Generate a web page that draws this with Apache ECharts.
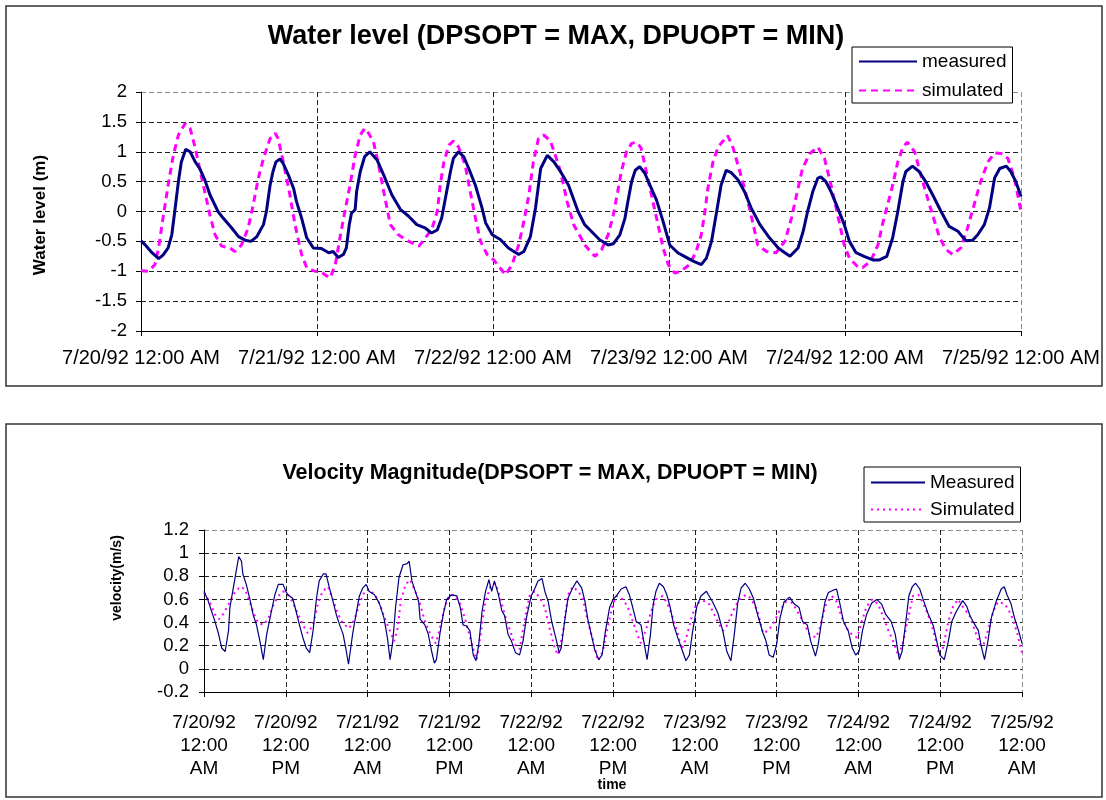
<!DOCTYPE html>
<html>
<head>
<meta charset="utf-8">
<script src="https://cdn.jsdelivr.net/npm/echarts@6/dist/echarts.min.js"></script>
<style>
  html, body { margin: 0; padding: 0; background: #fff; }
  #chart { width: 1106px; height: 800px; }
</style>
</head>
<body>
<div id="chart"></div>
<script>
// ── data: [hours since 7/20/92 12:00 AM, value] ─────────────────────
const wlTickLabels = ['7/20/92 12:00 AM', '7/21/92 12:00 AM', '7/22/92 12:00 AM',
  '7/23/92 12:00 AM', '7/24/92 12:00 AM', '7/25/92 12:00 AM']

const velTickLabels = ['7/20/92\n12:00\nAM', '7/20/92\n12:00\nPM', '7/21/92\n12:00\nAM',
  '7/21/92\n12:00\nPM', '7/22/92\n12:00\nAM', '7/22/92\n12:00\nPM', '7/23/92\n12:00\nAM',
  '7/23/92\n12:00\nPM', '7/24/92\n12:00\nAM', '7/24/92\n12:00\nPM', '7/25/92\n12:00\nAM']

const wlMeasured = [
  [0,-0.49],[0.5,-0.55],[1.5,-0.69],[2.4,-0.79],[3,-0.73],[3.7,-0.61],[4.2,-0.39],[4.6,0],[5.1,0.5],[5.5,0.83],
  [6.1,1.04],[6.7,1.0],[7.4,0.83],[8,0.72],[8.7,0.53],[9.4,0.28],[10.5,0],[11.2,-0.11],[12.4,-0.28],[13.3,-0.42],
  [14.2,-0.48],[15,-0.5],[15.8,-0.42],[16.7,-0.22],[17.1,0],[17.6,0.44],[18,0.67],[18.4,0.83],[18.95,0.88],[19.4,0.8],
  [20.1,0.61],[20.8,0.39],[21.2,0.17],[21.9,-0.11],[22.6,-0.44],[23.5,-0.61],[24.6,-0.62],[25.6,-0.69],[26.2,-0.67],
  [26.9,-0.77],[27.6,-0.72],[28,-0.61],[28.4,-0.22],[28.7,-0.03],[29.2,0.03],[29.4,0.33],[29.9,0.67],[30.5,0.92],
  [31.2,1.0],[32.2,0.86],[33.1,0.61],[34.2,0.28],[35.4,0.03],[36.5,-0.08],[37.6,-0.22],[38.8,-0.28],[39.6,-0.36],
  [40.4,-0.31],[41,-0.11],[41.6,0.28],[42.2,0.67],[42.6,0.89],[43.3,1.0],[44,0.92],[44.7,0.72],[45.6,0.44],[46.5,0.06],
  [47,-0.19],[47.9,-0.39],[49,-0.47],[50.1,-0.61],[51.5,-0.72],[52.2,-0.67],[53.1,-0.42],[53.8,0.06],[54.5,0.72],
  [55.4,0.94],[56.3,0.83],[57.2,0.67],[58.3,0.44],[59.6,0],[60.5,-0.22],[61.4,-0.33],[62.5,-0.47],[63.7,-0.56],
  [64.4,-0.54],[65.3,-0.39],[66,-0.11],[66.4,0.17],[66.9,0.5],[67.4,0.69],[68,0.75],[68.7,0.64],[69.4,0.44],[70.3,0.19],
  [71.2,-0.17],[72.1,-0.56],[73.2,-0.69],[74.1,-0.75],[75.3,-0.83],[76.4,-0.89],[77.1,-0.78],[77.8,-0.5],[78.5,0],
  [79.1,0.44],[79.8,0.69],[80.5,0.65],[81.4,0.53],[82.3,0.33],[83.2,0.06],[84.4,-0.22],[85.7,-0.44],[86.9,-0.61],
  [87.8,-0.69],[88.5,-0.75],[89.6,-0.61],[90.3,-0.33],[90.9,0],[91.6,0.33],[92.3,0.56],[92.7,0.58],[93.4,0.5],
  [94.1,0.33],[95,0.06],[95.9,-0.22],[96.6,-0.5],[97.5,-0.69],[98.6,-0.75],[99.8,-0.81],[100.7,-0.81],[101.7,-0.75],
  [102.5,-0.44],[103.2,0],[103.9,0.5],[104.3,0.67],[105.2,0.76],[106.1,0.67],[107,0.5],[107.95,0.28],[109.1,0],
  [110.2,-0.25],[111.4,-0.33],[112,-0.42],[112.5,-0.49],[113.4,-0.48],[114.1,-0.39],[115,-0.22],[115.7,0.06],
  [116.4,0.56],[117.1,0.72],[118,0.76],[118.6,0.67],[119.3,0.5],[120,0.25]
]

const wlSimulated = [
  [0,-0.99],[1,-1.0],[1.9,-0.89],[2.4,-0.61],[3,-0.11],[3.7,0.44],[4.4,0.94],[5.1,1.28],[6,1.47],[6.7,1.39],
  [7.4,1.06],[8,0.72],[8.7,0.33],[9.4,-0.06],[10.1,-0.39],[11,-0.58],[12.1,-0.61],[12.8,-0.67],[13.7,-0.56],
  [14.6,-0.28],[15.3,0.11],[16,0.56],[16.7,0.89],[17.6,1.22],[18.3,1.31],[18.7,1.22],[19.4,0.83],[20.3,0.28],
  [21,-0.22],[21.9,-0.72],[22.6,-0.94],[23.7,-1.0],[24.4,-1.0],[25.1,-1.06],[25.8,-1.11],[26.5,-0.89],[27.2,-0.39],
  [27.8,0],[28.5,0.44],[29.2,0.94],[29.9,1.28],[30.5,1.39],[30.8,1.36],[31.7,1.17],[32.4,0.78],[33.1,0.33],[34,-0.22],
  [35.1,-0.39],[36.5,-0.5],[37.9,-0.58],[38.8,-0.44],[39.7,-0.28],[40.4,0],[40.8,0.44],[41.3,0.83],[42,1.11],
  [42.6,1.18],[43.3,1.08],[44.2,0.78],[44.9,0.33],[45.6,-0.11],[46.3,-0.5],[47.2,-0.72],[48.1,-0.81],[49.7,-1.06],
  [50.6,-0.89],[51.5,-0.56],[52.2,-0.17],[52.9,0.28],[53.5,0.83],[54.2,1.22],[54.9,1.28],[55.8,1.19],[56.5,0.94],
  [57.2,0.67],[58.1,0.17],[59,-0.22],[60,-0.44],[60.5,-0.56],[61.9,-0.75],[62.8,-0.64],[63.7,-0.39],[64.4,-0.06],
  [65,0.33],[65.5,0.67],[66.2,1.0],[66.9,1.14],[67.6,1.16],[68.2,1.06],[68.9,0.67],[69.6,0.28],[70.5,-0.22],
  [71.2,-0.61],[71.9,-0.89],[72.8,-1.03],[73.6,-1.0],[74.8,-0.89],[75.7,-0.67],[76.4,-0.39],[76.9,0],[77.3,0.39],
  [78,0.83],[78.7,1.08],[80,1.27],[80.7,1.08],[81.4,0.78],[82.3,0.39],[83.2,-0.06],[84.1,-0.56],[85.3,-0.67],
  [86.6,-0.69],[87.8,-0.5],[88.7,-0.11],[89.4,0.28],[90.2,0.72],[91.2,0.97],[92.3,1.08],[93.2,0.89],[94.1,0.44],
  [95,-0.06],[95.9,-0.56],[96.6,-0.78],[97.7,-0.92],[98.4,-0.94],[99.5,-0.83],[100.5,-0.56],[101.1,-0.22],
  [101.8,0.11],[102.5,0.44],[103.2,0.83],[103.9,1.08],[104.5,1.16],[105.5,1.0],[106.1,0.72],[107,0.33],[107.95,-0.06],
  [108.9,-0.44],[109.8,-0.64],[110.7,-0.72],[111.8,-0.61],[112.7,-0.28],[113.6,0.11],[114.5,0.5],[115.5,0.83],
  [116.4,0.98],[117.3,0.97],[118.2,0.89],[119.1,0.56],[120,0]
]

const velMeasured = [
  [0,0.67],[0.6,0.59],[1.1,0.5],[1.6,0.41],[2.1,0.31],[2.6,0.18],[3.1,0.15],[3.6,0.33],[3.8,0.53],[4.3,0.70],
  [4.8,0.87],[5.1,0.97],[5.5,0.93],[5.7,0.82],[6.2,0.73],[6.7,0.61],[7.2,0.47],[7.7,0.38],[8.2,0.24],[8.7,0.08],
  [9.2,0.3],[9.9,0.5],[10.4,0.64],[10.9,0.73],[11.6,0.73],[12,0.67],[12.3,0.64],[13,0.61],[13.5,0.5],[14,0.38],
  [14.5,0.27],[15,0.18],[15.5,0.14],[16,0.33],[16.5,0.61],[16.9,0.76],[17.5,0.82],[17.9,0.82],[18.4,0.70],[18.9,0.59],
  [19.4,0.47],[19.9,0.38],[20.4,0.3],[20.8,0.18],[21.2,0.04],[21.8,0.3],[22.3,0.47],[22.8,0.63],[23.3,0.70],[23.8,0.73],
  [24.2,0.67],[25,0.64],[25.7,0.57],[26.4,0.44],[26.9,0.27],[27.3,0.08],[27.7,0.24],[28.1,0.53],[28.6,0.79],[29.2,0.9],
  [29.8,0.91],[30.1,0.93],[30.5,0.76],[31,0.67],[31.5,0.58],[31.7,0.43],[32.4,0.38],[32.9,0.3],[33.4,0.15],[33.8,0.05],
  [34.1,0.08],[34.6,0.3],[35.1,0.47],[35.6,0.6],[36.3,0.64],[37.1,0.63],[37.6,0.53],[38,0.38],[38.5,0.37],[39,0.33],
  [39.5,0.12],[39.9,0.07],[40.3,0.21],[40.8,0.5],[41.3,0.67],[41.8,0.77],[42.2,0.67],[42.6,0.76],[43.2,0.64],[43.7,0.5],
  [44.1,0.46],[44.6,0.3],[45.1,0.24],[45.7,0.14],[46.3,0.12],[46.8,0.24],[47.3,0.44],[48,0.63],[48.5,0.69],[49,0.76],
  [49.6,0.78],[50,0.67],[50.5,0.58],[51,0.41],[51.6,0.27],[52.1,0.14],[52.4,0.18],[52.9,0.41],[53.4,0.61],[54,0.69],
  [54.7,0.76],[55.4,0.7],[55.9,0.58],[56.3,0.43],[56.8,0.3],[57.3,0.17],[57.9,0.08],[58.4,0.12],[58.9,0.33],[59.5,0.53],
  [60,0.6],[60.5,0.63],[61.2,0.69],[61.9,0.71],[62.4,0.64],[62.9,0.53],[63.4,0.41],[64.1,0.38],[64.6,0.21],[65,0.08],
  [65.5,0.3],[65.9,0.56],[66.3,0.67],[66.8,0.74],[67.4,0.71],[67.9,0.64],[68.4,0.53],[68.9,0.38],[69.5,0.27],[70.1,0.17],
  [70.7,0.07],[71.2,0.12],[71.7,0.33],[72.3,0.54],[72.9,0.63],[73.7,0.67],[74.1,0.63],[74.6,0.58],[75.4,0.48],[76.1,0.33],
  [76.7,0.15],[77.3,0.07],[77.8,0.3],[78.3,0.57],[78.8,0.7],[79.4,0.74],[80,0.69],[80.6,0.61],[81.2,0.47],[82,0.31],
  [82.4,0.25],[82.9,0.12],[83.5,0.1],[84,0.21],[84.5,0.44],[85.1,0.58],[85.9,0.62],[86.6,0.56],[87.3,0.53],[87.8,0.41],
  [88.5,0.38],[89,0.24],[89.7,0.11],[90.1,0.21],[90.6,0.41],[91.1,0.58],[91.6,0.66],[92.3,0.68],[92.8,0.69],[93.3,0.56],
  [93.8,0.41],[94.5,0.33],[95.1,0.18],[95.6,0.12],[96.1,0.15],[96.6,0.33],[97.2,0.47],[97.95,0.57],[98.7,0.6],[99.4,0.56],
  [100,0.47],[100.8,0.41],[101.4,0.3],[102,0.08],[102.4,0.15],[102.9,0.38],[103.4,0.63],[103.9,0.71],[104.4,0.74],
  [105,0.69],[105.5,0.6],[106.2,0.48],[107,0.37],[107.5,0.24],[107.95,0.12],[108.6,0.08],[109.2,0.24],[109.7,0.41],
  [110.4,0.5],[111.3,0.59],[111.9,0.54],[112.3,0.47],[112.8,0.41],[113.6,0.33],[114,0.2],[114.5,0.08],[115,0.24],
  [115.5,0.44],[116.2,0.58],[116.95,0.69],[117.4,0.71],[117.8,0.64],[118.4,0.56],[118.9,0.44],[119.5,0.33],[120,0.22]
]

const velSimulated = [
  [0,0.66],[0.9,0.57],[1.6,0.47],[2.2,0.43],[2.9,0.48],[3.8,0.58],[4.5,0.66],[5.3,0.71],[6,0.69],[6.7,0.58],
  [7.3,0.48],[7.9,0.4],[8.7,0.38],[9.4,0.43],[10.1,0.54],[10.9,0.63],[11.6,0.67],[12.3,0.64],[13,0.58],[13.8,0.47],
  [14.5,0.38],[15.2,0.31],[16,0.38],[16.7,0.56],[17.4,0.67],[18.2,0.71],[18.9,0.6],[19.6,0.48],[20.4,0.39],[21.3,0.35],
  [22.1,0.43],[22.8,0.56],[23.5,0.66],[24.2,0.69],[25.2,0.63],[25.9,0.54],[26.7,0.41],[27.4,0.31],[27.9,0.24],
  [28.4,0.35],[28.9,0.6],[29.6,0.73],[30.2,0.77],[31,0.67],[31.7,0.56],[32.4,0.41],[33.2,0.3],[34,0.22],[34.6,0.35],
  [35.3,0.53],[35.95,0.63],[36.7,0.64],[37.6,0.56],[38.3,0.43],[39,0.28],[39.5,0.17],[40,0.08],[40.6,0.3],[41.2,0.56],
  [42,0.71],[42.7,0.74],[43.4,0.63],[44.1,0.47],[44.9,0.33],[45.6,0.21],[46.3,0.17],[47.1,0.44],[47.8,0.64],[48.5,0.67],
  [49.3,0.61],[50,0.53],[50.7,0.35],[51.5,0.17],[51.95,0.12],[52.7,0.33],[53.4,0.64],[54.1,0.71],[54.9,0.67],[55.6,0.6],
  [56.3,0.41],[57.1,0.24],[57.8,0.07],[58.5,0.15],[59.3,0.38],[60,0.56],[60.5,0.63],[61.5,0.6],[62.2,0.53],[62.9,0.41],
  [63.7,0.28],[64.1,0.22],[64.9,0.35],[65.6,0.5],[66.3,0.6],[67.3,0.63],[68,0.56],[68.8,0.44],[69.5,0.3],[70.1,0.17],
  [70.8,0.28],[71.5,0.44],[72.2,0.56],[73.2,0.59],[74.1,0.56],[75.1,0.44],[76.1,0.33],[76.8,0.38],[77.6,0.5],[78.5,0.6],
  [79.5,0.64],[80.2,0.61],[81.2,0.5],[82,0.31],[82.8,0.33],[83.7,0.41],[84.4,0.5],[85.4,0.58],[86.3,0.57],[87.6,0.44],
  [88.8,0.3],[89.8,0.27],[90.5,0.38],[91.1,0.54],[92.1,0.63],[92.8,0.58],[93.6,0.44],[94.3,0.35],[95,0.3],[95.8,0.27],
  [96.5,0.41],[97.2,0.54],[98,0.6],[98.9,0.56],[99.7,0.44],[100.4,0.33],[101.1,0.24],[101.9,0.11],[102.6,0.24],
  [103.3,0.44],[104,0.63],[104.8,0.64],[105.5,0.57],[106.2,0.47],[107,0.33],[107.7,0.15],[108.4,0.18],[109.2,0.41],
  [109.9,0.54],[110.6,0.6],[111.4,0.53],[112.3,0.46],[113.1,0.33],[113.8,0.21],[114.3,0.2],[115,0.33],[115.8,0.5],
  [116.5,0.58],[117.5,0.56],[118.4,0.47],[119.2,0.33],[120,0.14]
]

// ── styling ────────────────────────────────────────────────────────
const FONT = '"Liberation Sans", Arial, sans-serif'
const NAVY = '#000080'
const MAGENTA = '#ff00ff'
const GRID_DASH = [5, 3]

// dashed split lines, last one (plot-area edge) grey
function splitColors(n) {
  return Array.from({ length: n }, (_, i) => (i === n - 1 ? '#8c8c8c' : '#222'))
}

const axisCommon = {
  axisLine: { show: true, onZero: false, lineStyle: { color: '#000', width: 1 } },
  axisTick: { show: true, inside: false, length: 5, lineStyle: { color: '#000' } },
}

const legendCommon = {
  orient: 'vertical',
  backgroundColor: '#fff', borderColor: '#000', borderWidth: 1,
  itemStyle: { opacity: 0 },   // line sample only, no marker dot
  textStyle: { fontFamily: FONT, fontSize: 19, color: '#000' },
}

const chart = echarts.init(document.getElementById('chart'), null, { renderer: 'canvas' })

chart.setOption({
  backgroundColor: '#fff',
  animation: false,
  textStyle: { fontFamily: FONT },
  title: [
    {
      text: 'Water level (DPSOPT = MAX, DPUOPT = MIN)',
      left: 556, top: 23, textAlign: 'center', padding: 0,
      textStyle: { fontFamily: FONT, fontSize: 27, fontWeight: 'bold', color: '#000' },
    },
    {
      text: 'Velocity Magnitude(DPSOPT = MAX, DPUOPT = MIN)',
      left: 550, top: 462, textAlign: 'center', padding: 0,
      textStyle: { fontFamily: FONT, fontSize: 21.5, fontWeight: 'bold', color: '#000' },
    },
  ],
  legend: [
    {
      ...legendCommon,
      data: ['measured', 'simulated'],
      left: 852, top: 47,
      padding: [5, 6, 3, 6], itemGap: 10, itemWidth: 58, itemHeight: 12,
    },
    {
      ...legendCommon,
      data: ['Measured', 'Simulated'],
      left: 864, top: 467,
      padding: [6, 6, 3, 6], itemGap: 8, itemWidth: 54, itemHeight: 12,
    },
  ],
  grid: [
    { left: 141, top: 92, width: 880, height: 239 },
    { left: 204, top: 530, width: 818, height: 162 },
  ],
  xAxis: [
    {
      gridIndex: 0, type: 'value', min: 0, max: 120, interval: 24,
      ...axisCommon,
      axisLabel: {
        color: '#000', fontSize: 20, fontFamily: FONT, margin: 17,
        formatter: (v) => wlTickLabels[Math.round(v / 24)] ?? '',
      },
      splitLine: { show: true, lineStyle: { color: splitColors(6), type: GRID_DASH, width: 1 } },
    },
    {
      gridIndex: 1, type: 'value', min: 0, max: 120, interval: 12,
      ...axisCommon,
      axisLabel: {
        color: '#000', fontSize: 19, fontFamily: FONT, margin: 19, lineHeight: 23, align: 'center',
        formatter: (v) => velTickLabels[Math.round(v / 12)] ?? '',
      },
      splitLine: { show: true, lineStyle: { color: splitColors(11), type: GRID_DASH, width: 1 } },
    },
  ],
  yAxis: [
    {
      gridIndex: 0, type: 'value', min: -2, max: 2, interval: 0.5,
      ...axisCommon,
      axisLabel: { color: '#000', fontSize: 18.5, fontFamily: FONT, margin: 14 },
      splitLine: { show: true, lineStyle: { color: splitColors(9), type: GRID_DASH, width: 1 } },
    },
    {
      gridIndex: 1, type: 'value', min: -0.2, max: 1.2, interval: 0.2,
      ...axisCommon,
      axisLabel: { color: '#000', fontSize: 18.5, fontFamily: FONT, margin: 15 },
      splitLine: { show: true, lineStyle: { color: splitColors(8), type: GRID_DASH, width: 1 } },
    },
  ],
  series: [
    {
      name: 'measured', type: 'line', xAxisIndex: 0, yAxisIndex: 0, data: wlMeasured,
      symbol: 'none', color: NAVY, lineStyle: { color: NAVY, width: 3 }, z: 3,
    },
    {
      name: 'simulated', type: 'line', xAxisIndex: 0, yAxisIndex: 0, data: wlSimulated,
      symbol: 'none', color: MAGENTA, lineStyle: { color: MAGENTA, width: 3, type: [7, 5] }, z: 2,
    },
    {
      name: 'Measured', type: 'line', xAxisIndex: 1, yAxisIndex: 1, data: velMeasured,
      symbol: 'none', color: NAVY, lineStyle: { color: NAVY, width: 1.2 }, z: 3,
    },
    {
      name: 'Simulated', type: 'line', xAxisIndex: 1, yAxisIndex: 1, data: velSimulated,
      symbol: 'none', color: MAGENTA, lineStyle: { color: MAGENTA, width: 2, type: [2, 4] }, z: 2,
    },
  ],
  graphic: [
    { type: 'rect', shape: { x: 6, y: 6, width: 1096, height: 380 },
      style: { fill: 'none', stroke: '#333', lineWidth: 1.5 }, silent: true },
    { type: 'rect', shape: { x: 6, y: 424, width: 1096, height: 373 },
      style: { fill: 'none', stroke: '#333', lineWidth: 1.5 }, silent: true },
    { type: 'text', x: 40, y: 215, rotation: Math.PI / 2,
      style: { text: 'Water level (m)', font: `bold 17px ${FONT}`, fill: '#000', align: 'center', verticalAlign: 'middle' } },
    { type: 'text', x: 117, y: 578, rotation: Math.PI / 2,
      style: { text: 'velocity(m/s)', font: `bold 14px ${FONT}`, fill: '#000', align: 'center', verticalAlign: 'middle' } },
    { type: 'text', x: 612, y: 785,
      style: { text: 'time', font: `bold 14px ${FONT}`, fill: '#000', align: 'center', verticalAlign: 'middle' } },
  ],
})
</script>
</body>
</html>
